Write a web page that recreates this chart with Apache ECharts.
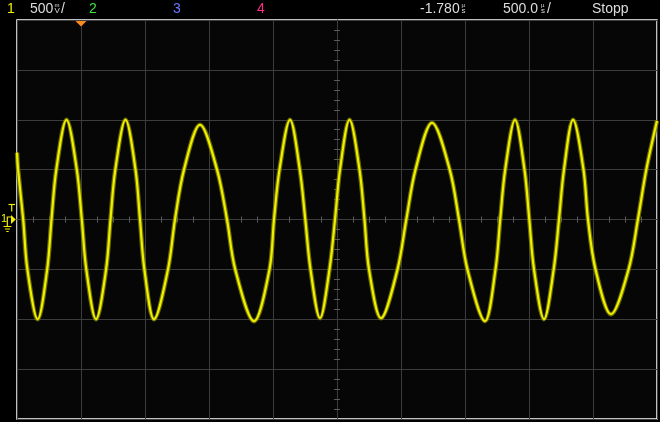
<!DOCTYPE html>
<html><head><meta charset="utf-8">
<script src="https://cdn.jsdelivr.net/npm/echarts@6/dist/echarts.min.js"></script>
<style>html,body{margin:0;padding:0;background:#000;overflow:hidden}#c{width:660px;height:422px;}</style>
</head><body><div id="c"></div>
<script>
// Time (ms, relative to screen centre; 500 us/div) and channel-1 voltage (V; 500 mV/div)
const timeMs = [-2.5, -2.4914, -2.4516, -2.4188, -2.3383, -2.2641, -2.2305, -2.1930, -2.1133, -2.0328,
  -1.9938, -1.9586, -1.8828, -1.8039, -1.7695, -1.7320, -1.6523, -1.5742, -1.5391, -1.5047,
  -1.4297, -1.3203, -1.2656, -1.1953, -1.0703, -0.9375, -0.8594, -0.7953, -0.6484, -0.5273,
  -0.4922, -0.4492, -0.3672, -0.2906, -0.2477, -0.2070, -0.1328, -0.0586, -0.0156, 0.0234,
  0.0977, 0.1758, 0.2148, 0.25, 0.3438, 0.4727, 0.5414, 0.6133, 0.7422, 0.8805,
  0.9531, 1.0188, 1.1563, 1.2383, 1.2750, 1.3141, 1.3906, 1.4648, 1.5023, 1.5391,
  1.6172, 1.6930, 1.7344, 1.7734, 1.8438, 1.9258, 1.9609, 2.0195, 2.1406, 2.2781,
  2.3508, 2.4164, 2.5];
const volts = [0.67, 0.5, 0, -0.5, -1.0, -0.5, 0, 0.5, 1.0, 0.5,
  0, -0.5, -1.0, -0.5, 0, 0.5, 1.0, 0.5, 0, -0.5,
  -1.0, -0.5, 0, 0.5, 0.95, 0.5, 0, -0.5, -1.02, -0.5,
  0, 0.5, 1.0, 0.5, 0, -0.5, -0.99, -0.5, 0, 0.5,
  1.0, 0.5, 0, -0.5, -0.99, -0.5, 0, 0.5, 0.97, 0.5,
  0, -0.5, -1.02, -0.5, 0, 0.5, 1.0, 0.5, 0, -0.5,
  -1.0, -0.5, 0, 0.5, 1.0, 0.5, 0, -0.5, -0.95, -0.5,
  0, 0.5, 0.99];

// Header texts
const chanLabels = ['1', '2', '3', '4'];
const chanColors = ['#f0f000', '#3fe03f', '#6a78ff', '#ff2a86'];
const voltScale = '500';
const delayText = '-1.780';
const timeScale = '500.0';
const runState = 'Stopp';
const triggerTimeMs = -2.0;

const chart = echarts.init(document.getElementById('c'), null, {renderer: 'canvas'});
const pts = timeMs.map((t, i) => [t, volts[i]]);
const gridCol = '#3d3d3d';
const tickCol = '#5a5a5a';

function xAxis(pos, split) {
  return {
    type: 'value', min: -2.5, max: 2.5, interval: 0.5, position: pos,
    axisLine: {show: true, onZero: true, lineStyle: {color: gridCol, width: 1}},
    axisTick: {show: false},
    minorTick: {show: true, splitNumber: 4, length: 3, lineStyle: {color: tickCol}},
    axisLabel: {show: false},
    splitLine: {show: split, lineStyle: {color: gridCol, width: 1}}
  };
}
function yAxis(pos, split) {
  return {
    type: 'value', min: -2, max: 2, interval: 0.5, position: pos,
    axisLine: {show: true, onZero: true, lineStyle: {color: gridCol, width: 1}},
    axisTick: {show: false},
    minorTick: {show: true, splitNumber: 5, length: 3, lineStyle: {color: tickCol}},
    axisLabel: {show: false},
    splitLine: {show: split, lineStyle: {color: gridCol, width: 1}}
  };
}

const font = '"Liberation Sans", Arial, sans-serif';
function txt(x, str, color, size, y) {
  return {type: 'text', left: x, top: (y === undefined ? 2 : y),
    style: {text: str, fill: color, font: (size || 14) + 'px ' + font}};
}
const white = '#dcdcdc';
const yel = chanColors[0];

chart.setOption({
  backgroundColor: '#000',
  animation: false,
  grid: {left: 17, right: 3, top: 20, bottom: 3, show: true, borderColor: '#ffffff', borderWidth: 1.5, backgroundColor: '#060606'},
  xAxis: [xAxis('bottom', true), xAxis('top', false)],
  yAxis: [yAxis('left', true), yAxis('right', false)],
  series: [
    {type: 'line', data: pts, smooth: 0.33, showSymbol: false, silent: true, clip: true,
     lineStyle: {width: 4.5, color: 'rgba(125,125,0,0.85)'}},
    {type: 'line', data: pts, smooth: 0.33, showSymbol: false, silent: true, clip: true,
     lineStyle: {width: 2.2, color: '#efef00'}}
  ]
});

const trigX = chart.convertToPixel({xAxisIndex: 0}, triggerTimeMs);
const zeroY = chart.convertToPixel({yAxisIndex: 0}, 0);

chart.setOption({
  graphic: [
    txt(7, chanLabels[0], chanColors[0]),
    txt(30, voltScale, white),
    txt(54.5, 'm', white, 6, 2),
    txt(54.5, 'V', white, 8, 7),
    txt(61, '/', white),
    txt(89, chanLabels[1], chanColors[1]),
    txt(173, chanLabels[2], chanColors[2]),
    txt(257, chanLabels[3], chanColors[3]),
    txt(420, delayText, white),
    txt(461.5, 'µ', white, 6, 2),
    txt(461.5, 's', white, 8, 7),
    txt(503, timeScale, white),
    txt(541, 'µ', white, 6, 2),
    txt(541, 's', white, 8, 7),
    txt(547, '/', white),
    txt(592, runState, white),
    {type: 'polygon', shape: {points: [[trigX - 5.5, 21], [trigX + 5.5, 21], [trigX, 26.5]]}, style: {fill: '#ff8c1a'}},
    // channel 1 ground / trigger marker
    {type: 'text', left: 1, top: zeroY - 6, style: {text: '1', fill: yel, font: '11px ' + font}},
    {type: 'polygon', shape: {points: [[11, zeroY - 4.5], [15.8, zeroY], [11, zeroY + 4.5]]}, style: {fill: yel}},
    {type: 'polyline', shape: {points: [[7.3, zeroY + 7], [7.3, zeroY - 2.5], [11, zeroY - 2.5]]}, style: {stroke: yel, lineWidth: 1.2}},
    {type: 'polyline', shape: {points: [[8.5, zeroY - 15], [15, zeroY - 15]]}, style: {stroke: yel, lineWidth: 1.2}},
    {type: 'polyline', shape: {points: [[11.7, zeroY - 15], [11.7, zeroY - 8]]}, style: {stroke: yel, lineWidth: 1.2}},
    {type: 'polyline', shape: {points: [[3.5, zeroY + 7], [11.5, zeroY + 7]]}, style: {stroke: yel, lineWidth: 1}},
    {type: 'polyline', shape: {points: [[5, zeroY + 9.5], [10, zeroY + 9.5]]}, style: {stroke: yel, lineWidth: 1}},
    {type: 'polyline', shape: {points: [[6.3, zeroY + 12], [8.7, zeroY + 12]]}, style: {stroke: yel, lineWidth: 1}}
  ]
});
</script>
</body></html>
